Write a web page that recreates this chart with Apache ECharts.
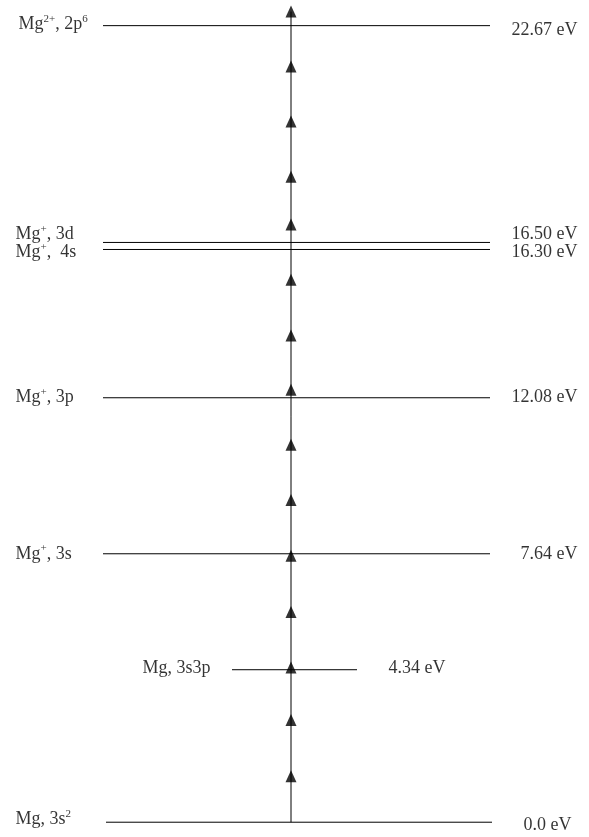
<!DOCTYPE html>
<html><head><meta charset="utf-8">
<script src="https://cdn.jsdelivr.net/npm/echarts@6/dist/echarts.min.js"></script>
<style>html,body{margin:0;padding:0;background:#fff}#c{width:589px;height:837px}</style>
</head><body><div id="c"></div>
<script>
// ---- data ----
const levelNames = ['Mg, 3s{sup|2}', 'Mg, 3s3p', 'Mg{sup|+}, 3s', 'Mg{sup|+}, 3p', 'Mg{sup|+},  4s', 'Mg{sup|+}, 3d', 'Mg{sup|2+}, 2p{sup|6}'];
const levelEnergies = [0.0, 4.34, 7.64, 12.08, 16.30, 16.50, 22.67];
const levelEnergyLabels = ['0.0 eV', '4.34 eV', '7.64 eV', '12.08 eV', '16.30 eV', '16.50 eV', '22.67 eV'];
const photonSteps = [1.31, 2.91, 4.40, 5.98, 7.58, 9.17, 10.74, 12.31, 13.85, 15.44, 17.01, 18.37, 19.94, 21.51, 23.07];
const arrowStart = 0.0;

// ---- layout (pixels along a hidden 0..589 x axis) ----
const FONT = 'Liberation Serif';
const ARROW_X = 291;
const layout = [
  {x0: 106, x1: 492, lx: 15, rx: 572, rAlign: 'right', dyL: -3, dyR: 3},
  {x0: 232, x1: 357, lx: 142, rx: 388, rAlign: 'left', dyL: -1, dyR: -1},
  {x0: 103, x1: 490, lx: 15, rx: 578, rAlign: 'right', dyL: 0, dyR: 0},
  {x0: 103, x1: 490, lx: 15, rx: 578, rAlign: 'right', dyL: 0, dyR: 0},
  {x0: 103, x1: 490, lx: 15, rx: 578, rAlign: 'right', dyL: 3, dyR: 3},
  {x0: 103, x1: 490, lx: 15, rx: 578, rAlign: 'right', dyL: -8, dyR: -8},
  {x0: 103, x1: 490, lx: 18, rx: 578, rAlign: 'right', dyL: -1, dyR: 5}
];

const textBase = {fontFamily: FONT, fontSize: 18, color: '#000', lineHeight: 22};
const rich = {sup: {fontFamily: FONT, fontSize: 11, color: '#000', verticalAlign: 'top', lineHeight: 11}};

const series = [];
levelEnergies.forEach((e, i) => {
  series.push({
    type: 'line', silent: true, symbol: 'none',
    lineStyle: {color: '#000', width: 1},
    data: [[layout[i].x0, e], [layout[i].x1, e]], z: 2
  });
});
series.push({
  type: 'line', silent: true, symbol: 'none',
  lineStyle: {color: '#000', width: 1},
  data: [[ARROW_X, arrowStart], [ARROW_X, photonSteps[photonSteps.length - 1]]], z: 3
});
series.push({
  type: 'scatter', silent: true, symbol: 'triangle', symbolSize: [11, 12],
  itemStyle: {color: '#000'},
  data: photonSteps.map(v => [ARROW_X, v]), z: 4
});
series.push({
  type: 'scatter', silent: true, symbolSize: 1, itemStyle: {color: 'rgba(0,0,0,0)'},
  data: levelEnergies.map((e, i) => ({value: [layout[i].lx, e], label: {offset: [0, layout[i].dyL]}})),
  label: Object.assign({show: true, position: 'right', distance: 0, rich: rich,
    formatter: p => levelNames[p.dataIndex]}, textBase)
});
series.push({
  type: 'scatter', silent: true, symbolSize: 1, itemStyle: {color: 'rgba(0,0,0,0)'},
  data: levelEnergies.map((e, i) => ({value: [layout[i].rx, e],
    label: {offset: [0, layout[i].dyR], position: layout[i].rAlign === 'right' ? 'left' : 'right'}})),
  label: Object.assign({show: true, distance: 0,
    formatter: p => levelEnergyLabels[p.dataIndex]}, textBase)
});

const chart = echarts.init(document.getElementById('c'), null, {renderer: 'canvas'});
chart.setOption({
  animation: false,
  backgroundColor: '#fff',
  grid: {left: 0, right: 0, top: 0, bottom: 6},
  xAxis: {type: 'value', min: 0, max: 589, show: false},
  yAxis: {type: 'value', min: -0.25, max: 23.4, show: false},
  series: series
});
</script></body></html>
